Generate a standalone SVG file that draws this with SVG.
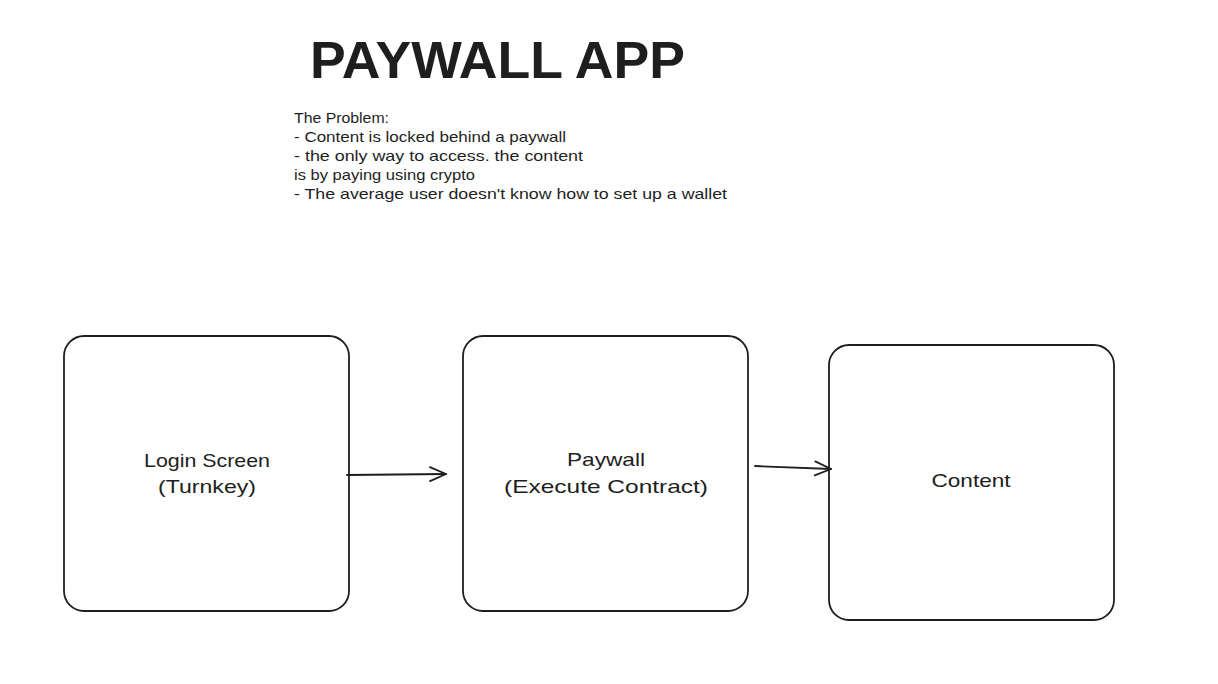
<svg xmlns="http://www.w3.org/2000/svg" width="1218" height="684" viewBox="0 0 1218 684">
<defs>
<style>
.box{fill:#ffffff;stroke:#1e1e1e;stroke-width:1.8}
.lbl{font-family:"Liberation Sans",Arial,sans-serif;font-size:19px;fill:#1e1e1e;text-anchor:middle}
.note{font-family:"Liberation Sans",Arial,sans-serif;font-size:15px;fill:#1e1e1e}
.title{font-family:"Liberation Sans",Arial,sans-serif;font-size:52px;font-weight:bold;fill:#1e1e1e}
.conn{stroke:#1e1e1e;stroke-width:1.8;fill:none;stroke-linecap:round;stroke-linejoin:round}
</style>
<marker id="arr" viewBox="0 0 20 20" refX="18" refY="10" markerWidth="20" markerHeight="20" markerUnits="userSpaceOnUse" orient="auto">
<path d="M2 3 L18 10 L2 17" fill="none" stroke="#1e1e1e" stroke-width="1.8" stroke-linecap="round" stroke-linejoin="round"/>
</marker>
</defs>
<rect width="1218" height="684" fill="#ffffff"/>
<g id="title">
<text class="title" x="310" y="78" textLength="375" lengthAdjust="spacingAndGlyphs">PAYWALL APP</text>
</g>
<g id="problem">
<text class="note" x="294" y="123" textLength="95" lengthAdjust="spacingAndGlyphs">The Problem:</text>
<text class="note" x="294" y="142" textLength="272" lengthAdjust="spacingAndGlyphs">- Content is locked behind a paywall</text>
<text class="note" x="294" y="161" textLength="289" lengthAdjust="spacingAndGlyphs">- the only way to access. the content</text>
<text class="note" x="294" y="180" textLength="181" lengthAdjust="spacingAndGlyphs">is by paying using crypto</text>
<text class="note" x="294" y="199" textLength="433" lengthAdjust="spacingAndGlyphs">- The average user doesn't know how to set up a wallet</text>
</g>
<g id="login">
<rect class="box" x="64" y="336" width="285" height="275" rx="20"/>
<text class="lbl" x="207" y="467" textLength="126" lengthAdjust="spacingAndGlyphs">Login Screen</text>
<text class="lbl" x="207" y="493" textLength="98" lengthAdjust="spacingAndGlyphs">(Turnkey)</text>
</g>
<g id="paywall">
<rect class="box" x="463" y="336" width="285" height="275" rx="20"/>
<text class="lbl" x="606" y="466" textLength="78" lengthAdjust="spacingAndGlyphs">Paywall</text>
<text class="lbl" x="606" y="493" textLength="204" lengthAdjust="spacingAndGlyphs">(Execute Contract)</text>
</g>
<g id="content">
<rect class="box" x="829" y="345" width="285" height="275" rx="20"/>
<text class="lbl" x="971" y="487" textLength="79" lengthAdjust="spacingAndGlyphs">Content</text>
</g>
<g id="connectors">
<path class="conn" d="M347 475 L446 474" marker-end="url(#arr)"/>
<path class="conn" d="M755 466 L831 469" marker-end="url(#arr)"/>
</g>
</svg>
